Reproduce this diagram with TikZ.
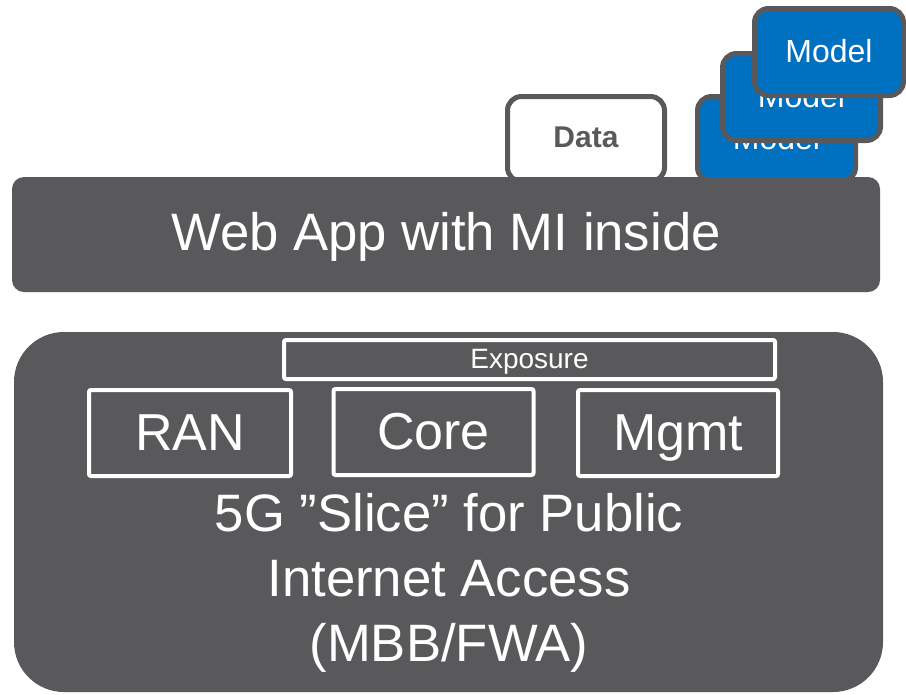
\documentclass[tikz,border=0pt]{standalone}
\usepackage{fontspec}
\setmainfont{Liberation Sans}
\definecolor{slab}{HTML}{59595B}
\definecolor{modelblue}{HTML}{0070C0}
\begin{document}
\begin{tikzpicture}[x=0.75pt,y=-0.75pt,
  slabbox/.style={fill=slab, draw=none, inner sep=0pt},
  capbox/.style 2 args={text height=#1, text depth=#2},
  whitebox/.style={draw=white, line width=3pt, rounded corners=1.5pt, inner sep=0pt, text=white},
  bigfont/.style={font=\fontsize{39}{47}\selectfont, capbox={27.9pt}{2.25pt}},
  modelbox/.style={draw=slab, fill=modelblue, line width=3.75pt, rounded corners=10.5pt, inner sep=0pt,
    text=white, font=\fontsize{24}{28}\selectfont, capbox={17.2pt}{1.5pt}},
  databox/.style={draw=slab, fill=white, line width=3.75pt, rounded corners=10.5pt, inner sep=0pt,
    text=slab, font=\fontsize{22.5}{27}\selectfont\bfseries, capbox={16.1pt}{3pt}},
  bigtext/.style={text=white, font=\fontsize{39.5}{48.75}\selectfont, align=center}
]
\useasboundingbox (0,0) rectangle (906,694);
% model stack and data
\node[modelbox, minimum width=118.5pt, minimum height=63.75pt] (m1) at (776.5,139) {Model};
\node[modelbox, minimum width=118.5pt, minimum height=65.25pt] (m2) at (801.5,97) {Model};
\node[modelbox, minimum width=111.75pt, minimum height=65.25pt] (m3) at (829,52) {Model};
\node[databox, minimum width=117.75pt, minimum height=63.75pt] (data) at (586,139) {Data};
% web app bar
\node[slabbox, rounded corners=9pt, minimum width=651pt, minimum height=86.25pt,
  text=white, font=\fontsize{39.5}{47}\selectfont, capbox={28.3pt}{4.5pt}] (web) at (446,234.5) {Web App with MI inside};
% 5G slice
\node[slabbox, rounded corners=37.5pt, minimum width=651.75pt, minimum height=270pt] (slice) at (448.5,512) {};
\node[whitebox, minimum width=368.25pt, minimum height=29.25pt, font=\fontsize{21}{25}\selectfont, capbox={15pt}{2.25pt}] (exp) at (529.5,359.5) {Exposure};
\node[whitebox, bigfont, minimum width=151.5pt, minimum height=64.5pt] (ran) at (190,433) {RAN};
\node[whitebox, bigfont, minimum width=150pt, minimum height=64.5pt] (core) at (433.5,432) {Core};
\node[whitebox, bigfont, minimum width=150pt, minimum height=64.5pt] (mgmt) at (678,433) {Mgmt};
\node[bigtext] (slicetxt) at (449,583) {5G ”Slice” for Public\\Internet Access\\(MBB/FWA)};
\end{tikzpicture}
\end{document}
